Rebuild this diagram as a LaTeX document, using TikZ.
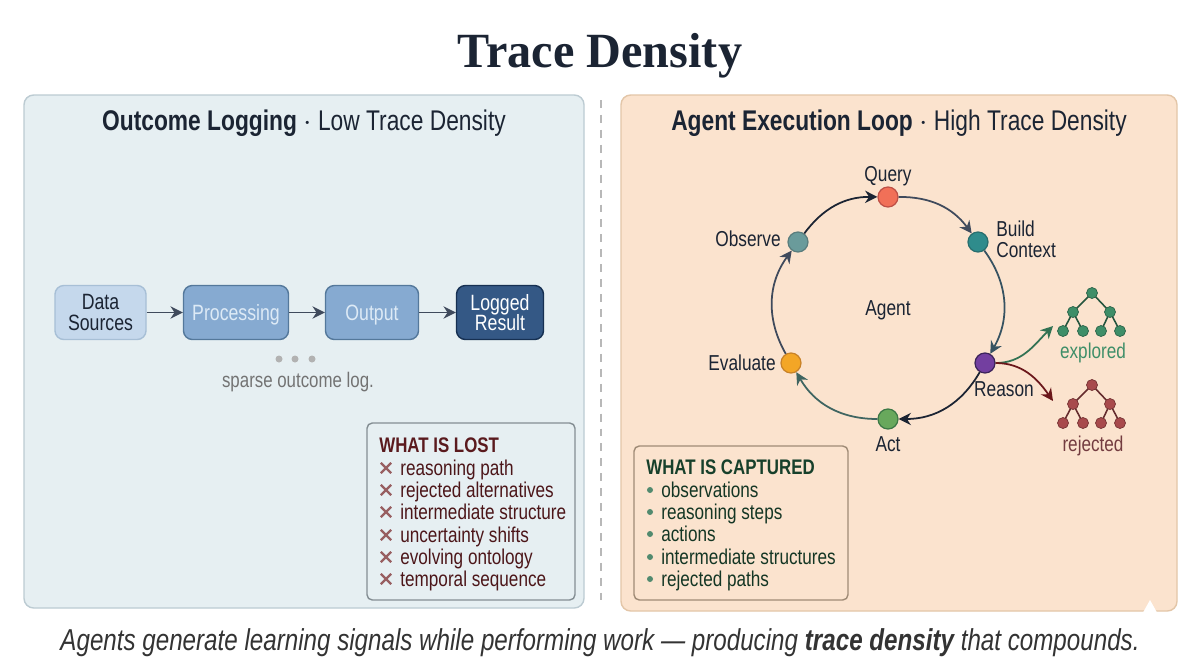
\documentclass[tikz,border=0pt]{standalone}
\usepackage{fontspec}
\usepackage{tikz}
\usetikzlibrary{shapes,arrows.meta}
\setmainfont[FakeStretch=0.8]{Liberation Sans}
\newfontfamily\titlefont[FakeStretch=0.98]{Liberation Serif}
\definecolor{inkdark}{HTML}{1B2433}
\definecolor{panelblue}{HTML}{E6EFF2}
\definecolor{edgeblue}{HTML}{BCCBD2}
\definecolor{panelpeach}{HTML}{FBE3CE}
\definecolor{edgepeach}{HTML}{E3C6A8}
\definecolor{lostred}{HTML}{5A1A1E}
\definecolor{capgreen}{HTML}{17402B}
\definecolor{treegreen}{HTML}{3E8E68}
\definecolor{treered}{HTML}{A84A4C}
\definecolor{slateline}{HTML}{3F4A5C}
\definecolor{midblue}{HTML}{86AAD1}
\definecolor{midedge}{HTML}{54789B}
\definecolor{midtext}{HTML}{DDEAF6}
\tikzset{
	panel/.style={draw, line width=0.8pt, rounded corners=5.5pt},
	flowbox/.style={draw, rounded corners=5pt, line width=0.8pt, minimum height=54*0.02cm, align=center, font=\fontsize{12.6}{11.8}\selectfont},
	midbox/.style={flowbox, fill=midblue, draw=midedge, text=midtext, text height=11pt, text depth=2.4pt},
	flowarrow/.style={-{Stealth[length=7pt,width=7pt]}, line width=1.1pt, draw=slateline},
	loopdot/.style={circle, draw, line width=0.7pt, minimum size=20*0.02cm, inner sep=0pt},
	looplabel/.style={inner sep=0pt, font=\fontsize{12.3}{11.8}\selectfont, text=inkdark},
	looparrow/.style={-{Stealth[length=7pt,width=7pt]}, line width=1pt},
	treedot/.style={circle, draw, line width=0.4pt, minimum size=11*0.02cm, inner sep=0pt},
	listbox/.style={draw, line width=0.8pt, rounded corners=3pt},
	listline/.style={anchor=base west, inner sep=0pt, font=\fontsize{12.2}{13}\selectfont},
	headline/.style={inner sep=0pt, text=inkdark, font=\fontsize{16.2}{17}\selectfont},
	lostcross/.style={cross out, draw=treered!60!gray, line width=1.3pt, minimum size=8*0.02cm, inner sep=0pt},
}
\begin{document}
\begin{tikzpicture}[x=0.02cm,y=-0.02cm]
	\useasboundingbox[fill=white] (0,0) rectangle (1200,670);
	\node[inner sep=0pt, text=inkdark] (title) at (600,56) {\titlefont\fontsize{28}{30}\selectfont\bfseries Trace Density};
	% panels
	\draw[panel, fill=panelblue, draw=edgeblue] (24,95) rectangle (584,608);
	\draw[panel, fill=panelpeach, draw=edgepeach] (621,95) rectangle (1177,611);
	\fill[white] (1143,612.5) -- (1150,600) -- (1157,612.5) -- cycle;
	\coordinate (divtop) at (601,100);
	\coordinate (divbot) at (601,600);
	\draw[draw=black!28, line width=0.8pt, dash pattern=on 4.5pt off 4pt] (divtop) -- (divbot);
	\node[headline] (lefthead) at (304,123) {\textbf{Outcome Logging} $\cdot$ Low Trace Density};
	\node[headline] (righthead) at (899,123) {\textbf{Agent Execution Loop} $\cdot$ High Trace Density};
	% pipeline
	\node[flowbox, fill={rgb,255:red,197;green,216;blue,236}, draw={rgb,255:red,167;green,191;blue,214}, text=inkdark, minimum width=91*0.02cm] (data) at (100.5,312.5) {Data\\Sources};
	\node[midbox, minimum width=105*0.02cm] (proc) at (236,312.5) {Processing};
	\node[midbox, minimum width=93*0.02cm] (out) at (372,312.5) {Output};
	\node[flowbox, fill={rgb,255:red,52;green,88;blue,133}, draw={rgb,255:red,22;green,48;blue,82}, text=white, minimum width=87*0.02cm] (res) at (500,312.5) {Logged\\Result};
	\draw[flowarrow] (data) -- (proc);
	\draw[flowarrow] (proc) -- (out);
	\draw[flowarrow] (out) -- (res);
	\foreach \i/\x in {1/279,2/295,3/312}
		\node[circle, fill=black!30, minimum size=7*0.02cm, inner sep=0pt] (dot\i) at (\x,359) {};
	\node[inner sep=0pt, text=black!55, font=\fontsize{12}{13}\selectfont] (sparse) at (298,382) {sparse outcome log.};
	% lost list
	\draw[listbox, fill=panelblue, draw=black!30!edgeblue] (367,423) rectangle (575,600);
	\node[listline, text=lostred, font=\fontsize{12}{13}\selectfont\bfseries] (losthead) at (379,452) {WHAT IS LOST};
	\foreach \i/\t/\y in {1/reasoning path/468,2/rejected alternatives/490,3/intermediate structure/512,4/uncertainty shifts/535,5/evolving ontology/557,6/temporal sequence/579}{
		\node[lostcross] (cross\i) at (386,\y) {};
		\node[listline, text=lostred!85!black] (lost\i) at (400,\y+7) {\t};
	}
	% loop
	\node[looplabel] (agent) at (888,310) {Agent};
	\node[loopdot, fill={rgb,255:red,241;green,112;blue,88}, draw={rgb,255:red,190;green,80;blue,70}] (query) at (888,197) {};
	\node[loopdot, fill={rgb,255:red,47;green,140;blue,140}, draw={rgb,255:red,40;green,110;blue,110}] (build) at (978,242) {};
	\node[loopdot, fill={rgb,255:red,115;green,63;blue,160}, draw={rgb,255:red,60;green,35;blue,90}] (reason) at (985,363) {};
	\node[loopdot, fill={rgb,255:red,104;green,168;blue,92}, draw={rgb,255:red,60;green,120;blue,70}] (act) at (888,419) {};
	\node[loopdot, fill={rgb,255:red,243;green,166;blue,38}, draw={rgb,255:red,200;green,130;blue,40}] (evalu) at (791,363) {};
	\node[loopdot, fill={rgb,255:red,106;green,155;blue,155}, draw={rgb,255:red,90;green,125;blue,125}] (obs) at (798,242) {};
	\draw[looparrow, draw=slateline] (query) to[bend left=27] (build);
	\draw[looparrow, draw=slateline!85!teal] (build) to[bend left=33] (reason);
	\draw[looparrow, draw=inkdark] (reason) to[bend left=30] (act);
	\draw[looparrow, draw=slateline!60!treegreen] (act) to[bend left=30] (evalu);
	\draw[looparrow, draw=slateline] (evalu) to[bend left=33] (obs);
	\draw[looparrow, draw=inkdark] (obs) to[bend left=27] (query);
	\node[looplabel] (querytxt) at (888,176) {Query};
	\node[looplabel, anchor=west, align=left] (buildtxt) at (996,239) {Build\\Context};
	\node[looplabel] (reasontxt) at (1004,389) {Reason};
	\node[looplabel] (acttxt) at (888,444) {Act};
	\node[looplabel, anchor=east] (evaltxt) at (776,363) {Evaluate};
	\node[looplabel, anchor=east] (obstxt) at (781,239) {Observe};
	% trees
	\coordinate (exptip) at (1053,326);
	\coordinate (rejtip) at (1053,401);
	\draw[looparrow, draw=treegreen!80!black] (reason) to[out=0, in=225] (exptip);
	\draw[looparrow, draw=lostred!90!red] (reason) to[out=0, in=125] (rejtip);
	\foreach \tname/\col/\dy in {g/treegreen/0,r/treered/92}{
		\draw[draw=\col!60!black, line width=0.9pt] (1092,293+\dy) coordinate (\tname m) -- (1073,312+\dy) -- (1063,331+\dy) (1073,312+\dy) -- (1083,331+\dy) (\tname m) -- (1110,312+\dy) -- (1101,331+\dy) (1110,312+\dy) -- (1120,331+\dy);
		\node[treedot, fill=\col, draw=\col!70!black] (\tname a) at (1092,293+\dy) {};
		\node[treedot, fill=\col, draw=\col!70!black] (\tname b) at (1073,312+\dy) {};
		\node[treedot, fill=\col, draw=\col!70!black] (\tname c) at (1110,312+\dy) {};
		\node[treedot, fill=\col, draw=\col!70!black] (\tname d) at (1063,331+\dy) {};
		\node[treedot, fill=\col, draw=\col!70!black] (\tname e) at (1083,331+\dy) {};
		\node[treedot, fill=\col, draw=\col!70!black] (\tname f) at (1101,331+\dy) {};
		\node[treedot, fill=\col, draw=\col!70!black] (\tname g) at (1120,331+\dy) {};
	}
	\node[looplabel, text=treegreen, font=\fontsize{12.2}{13}\selectfont] (exptxt) at (1093,353) {explored};
	\node[looplabel, text=lostred!85!white, font=\fontsize{12.2}{13}\selectfont] (rejtxt) at (1093,446) {rejected};
	% captured list
	\draw[listbox, fill=panelpeach, draw=black!30!edgepeach] (634,446) rectangle (848,600);
	\node[listline, text=capgreen, font=\fontsize{12}{13}\selectfont\bfseries] (caphead) at (646,474) {WHAT IS CAPTURED};
	\foreach \i/\t/\y in {1/observations/490,2/reasoning steps/512,3/actions/534,4/intermediate structures/557,5/rejected paths/579}{
		\node[circle, fill=treegreen!70!gray, minimum size=6*0.02cm, inner sep=0pt] (bul\i) at (650,\y) {};
		\node[listline, text=capgreen!85!black] (cap\i) at (661,\y+7) {\t};
	}
	\node[inner sep=0pt, text=black!80, font=\fontsize{17.2}{18}\selectfont\itshape] (caption) at (600,643) {Agents generate learning signals while performing work --- producing \textbf{trace density} that compounds.};
\end{tikzpicture}
\end{document}
